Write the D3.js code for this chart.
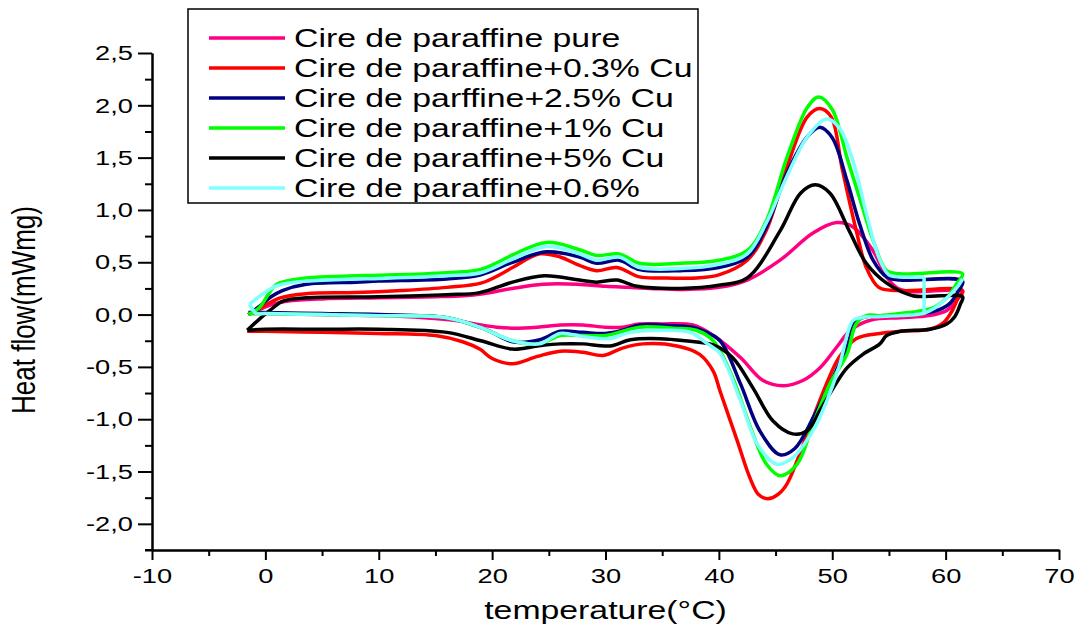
<!DOCTYPE html>
<html>
<head>
<meta charset="utf-8">
<script src="https://cdn.jsdelivr.net/npm/d3@7"></script>
<style>
  body { margin: 0; background: #fff; }
  svg { display: block; font-family: "Liberation Sans", Arial, sans-serif; }
</style>
</head>
<body>
<svg width="1081" height="630"></svg>
<script>
// Series labels and colours (legend order)
const seriesNames = [
  "Cire de paraffine pure",
  "Cire de paraffine+0.3% Cu",
  "Cire de parffine+2.5% Cu",
  "Cire de paraffine+1% Cu",
  "Cire de paraffine+5% Cu",
  "Cire de paraffine+0.6%"
];
const seriesColors = ["#ff0080", "#ff0000", "#000080", "#00ff00", "#000000", "#80ffff"];

// Tick values
const xTicks = [-10, 0, 10, 20, 30, 40, 50, 60, 70];
const xMinor = [-5, 5, 15, 25, 35, 45, 55, 65];
const yTicks = [-2.0, -1.5, -1.0, -0.5, 0.0, 0.5, 1.0, 1.5, 2.0, 2.5];
const yMinor = [-2.25, -1.75, -1.25, -0.75, -0.25, 0.25, 0.75, 1.25, 1.75, 2.25];

// [temperature, heat flow]: heating branch then cooling branch
const pure = [
  [-1.5,0.0],[-0.5,0.05],[0.7,0.10],[2,0.13],[5,0.15],[10,0.16],[15,0.17],[17.5,0.18],[19.2,0.2],
  [21.8,0.25],[24.5,0.29],[27.5,0.29],[30,0.27],[32,0.26],[34,0.25],[37,0.24],[40,0.26],[42.5,0.33],
  [45.4,0.52],[48.3,0.78],[50.4,0.88],[51.8,0.84],[53.6,0.61],[54.8,0.36],[55.8,0.25],[57,0.22],[61.5,0.22],
  [61.0,0.14],[60.1,0.04],[58.5,-0.01],[56,-0.03],[53.5,-0.05],[51.6,-0.15],[50.4,-0.31],[48.9,-0.51],
  [47.4,-0.63],[45.7,-0.68],[43.9,-0.63],[41.9,-0.41],[39.5,-0.2],[37.7,-0.1],[35,-0.09],[33,-0.09],
  [31.5,-0.12],[30,-0.12],[28,-0.1],[26,-0.1],[24,-0.12],[22,-0.13],[20.4,-0.12],[18.5,-0.09],[17,-0.06],
  [14,-0.03],[10,-0.01],[5,0.0],[0,0.01],[-1.5,0.01]
];
const cu03 = [
  [-1.5,0.0],[-0.5,0.06],[0.5,0.12],[1.3,0.16],[3.6,0.2],[8,0.21],[12,0.23],[16,0.26],[19,0.3],[21,0.4],
  [21.8,0.45],[24.2,0.58],[26,0.55],[27.7,0.47],[29.2,0.42],[31,0.45],[33,0.36],[35,0.35],[38,0.35],[40,0.38],
  [42.5,0.52],[44.2,0.81],[46,1.41],[47.8,1.89],[48.9,1.97],[49.9,1.89],[50.9,1.38],[52.1,0.81],[53,0.45],
  [54.1,0.26],[55.7,0.23],[61.5,0.23],
  [61.1,0.16],[60.6,0.04],[59.8,-0.08],[58.6,-0.14],[56,-0.16],[54.2,-0.18],[52.1,-0.23],[50.6,-0.41],
  [49.5,-0.66],[48.3,-0.99],[47.1,-1.34],[46,-1.62],[45.2,-1.72],[44.3,-1.76],[43.5,-1.72],[42.7,-1.55],
  [41.6,-1.2],[40.1,-0.73],[39.5,-0.54],[38.3,-0.38],[36.3,-0.3],[33.3,-0.28],[31.5,-0.32],[29.8,-0.39],
  [28,-0.36],[26,-0.35],[24,-0.4],[21.8,-0.47],[20,-0.42],[18.9,-0.33],[17.4,-0.26],[15,-0.2],[10,-0.18],
  [5,-0.17],[0,-0.16],[-1.6,-0.16]
];
const cu25 = [
  [-1.5,0.0],[-0.5,0.08],[0.5,0.17],[1.5,0.23],[3.6,0.29],[8,0.31],[10,0.32],[16,0.34],[19,0.38],[21.8,0.5],
  [24.8,0.6],[27.7,0.55],[29.2,0.49],[31.2,0.52],[33,0.43],[36.6,0.42],[40,0.45],[42.5,0.55],[44.2,0.84],
  [46,1.35],[47.8,1.7],[48.9,1.79],[50,1.69],[51.3,1.28],[52.4,0.87],[53.6,0.52],[54.8,0.36],[56,0.33],[61.5,0.32],
  [61.1,0.22],[60.3,0.1],[59,0.03],[57,0.0],[55,-0.01],[53,-0.02],[52.1,-0.06],[51.3,-0.31],[49.8,-0.66],
  [48.3,-0.99],[46.7,-1.28],[45.4,-1.34],[43.6,-1.11],[41.9,-0.66],[40.1,-0.25],[38.5,-0.15],[37.7,-0.12],
  [35,-0.1],[33,-0.1],[31.5,-0.15],[30,-0.18],[28,-0.17],[26,-0.16],[24.2,-0.24],[21.8,-0.26],[20,-0.17],
  [18.9,-0.12],[16,-0.03],[10,0.0],[5,0.01],[0,0.02],[-1.5,0.02]
];
const cu1 = [
  [-1.5,0.0],[-0.5,0.07],[0.3,0.2],[1,0.29],[3.6,0.35],[8,0.37],[10,0.375],[16,0.4],[18.9,0.43],[20.5,0.5],
  [21.8,0.57],[24.8,0.69],[27.7,0.62],[29.2,0.565],[31.2,0.58],[33,0.49],[36.6,0.49],[40,0.52],[42.5,0.61],
  [44.2,0.9],[46,1.5],[47.8,1.98],[48.8,2.08],[50,1.96],[51.3,1.5],[52.4,1.12],[53.6,0.71],[54.8,0.42],[56,0.39],[61.5,0.39],
  [61,0.3],[60.1,0.16],[59,0.07],[58,0.04],[56,0.01],[54.2,-0.01],[53,-0.01],[52.1,-0.09],[51.3,-0.38],
  [49.8,-0.66],[48.3,-1.05],[46.9,-1.43],[45.4,-1.54],[44.2,-1.43],[43,-1.14],[41.2,-0.6],[39.5,-0.25],
  [38,-0.15],[36,-0.13],[33,-0.12],[31.5,-0.16],[30,-0.2],[28,-0.2],[26,-0.2],[24.2,-0.28],[21.8,-0.25],
  [18.9,-0.12],[16,-0.03],[10,-0.01],[5,0.0],[0,0.01],[-1.5,0.01]
];
const cu5 = [
  [-1.6,-0.15],[-0.6,-0.05],[0.4,0.04],[1.6,0.13],[3.6,0.16],[10,0.17],[16,0.19],[18.9,0.21],[21.8,0.31],
  [24.6,0.37],[27.7,0.33],[29.2,0.31],[31,0.33],[32.8,0.27],[36.6,0.25],[40,0.28],[42.5,0.35],[45.4,0.8],
  [47.2,1.16],[48.5,1.24],[49.8,1.16],[51.5,0.8],[53,0.49],[54.8,0.3],[57.1,0.18],[61.5,0.17],
  [61.3,0.1],[60.8,-0.02],[60.1,-0.09],[58.6,-0.14],[56,-0.16],[54.8,-0.2],[54.2,-0.28],[52.7,-0.38],
  [51.3,-0.51],[50.1,-0.7],[48.9,-0.92],[47.8,-1.11],[46.5,-1.14],[44.8,-1.02],[43,-0.7],[41.2,-0.41],
  [39.5,-0.29],[37,-0.25],[34.8,-0.23],[32.2,-0.24],[30.4,-0.3],[28,-0.28],[26,-0.28],[24,-0.3],[21.8,-0.33],
  [19,-0.25],[16,-0.17],[10,-0.14],[5,-0.14],[0,-0.14],[-1.6,-0.15]
];
const cu06 = [
  [-1.4,0.1],[0.7,0.26],[2,0.3],[3.6,0.32],[8,0.34],[10,0.345],[16,0.37],[19,0.4],[21.8,0.53],[24.8,0.65],
  [27.7,0.58],[29.2,0.52],[31.2,0.55],[33,0.45],[36.6,0.44],[40,0.48],[42.5,0.58],[44.2,0.88],[46,1.32],
  [47.8,1.7],[49.5,1.87],[50.6,1.79],[51.8,1.48],[53,0.97],[54.1,0.55],[55,0.38],[56,0.36],[58.1,0.36]
];
const cu06Drop = [[58.1,0.36],[58.1,0.0]];
const cu06Cool = [
  [61.5,0.34],[61,0.26],[60.1,0.16],[59,0.06],[58,0.01],[56,-0.01],[54,-0.02],[52.5,-0.03],[51.8,-0.06],
  [50.6,-0.5],[49.5,-0.83],[48.3,-1.11],[46.5,-1.37],[45.1,-1.43],[43.4,-1.24],[41.9,-0.82],[40.1,-0.37],
  [39,-0.28],[37.5,-0.17],[35,-0.15],[32.2,-0.17],[30.4,-0.23],[28,-0.21],[26,-0.18],[24.2,-0.28],[21.8,-0.25],
  [18.9,-0.12],[16,-0.03],[10,-0.01],[5,0.0],[0,0.01],[-0.8,0.01],[-1.4,0.1]
];

const SX = 1.3; // the original figure is stretched horizontally

var svg = d3.select("svg");

var x = d3.scaleLinear().domain([-10, 70]).range([152, 1059]);
var y = d3.scaleLinear().domain([-2.25, 2.5]).range([550, 53]);

// axes
var xAxis = svg.append("g")
    .attr("transform", "translate(0," + y(-2.25) + ")")
    .call(d3.axisBottom(x).tickValues(xTicks).tickSize(10).tickSizeOuter(0).tickFormat(d => String(d)));
svg.append("g")
    .attr("transform", "translate(0," + y(-2.25) + ")")
    .call(d3.axisBottom(x).tickValues(xMinor).tickSize(6).tickSizeOuter(0).tickFormat(""));
var yAxis = svg.append("g")
    .attr("transform", "translate(" + x(-10) + ",0)")
    .call(d3.axisLeft(y).tickValues(yTicks).tickSize(14).tickSizeOuter(0).tickFormat(d => d.toFixed(1).replace(".", ",")));
svg.append("g")
    .attr("transform", "translate(" + x(-10) + ",0)")
    .call(d3.axisLeft(y).tickValues(yMinor).tickSize(7).tickSizeOuter(0).tickFormat(""));

svg.selectAll(".domain, .tick line").attr("stroke", "#000").attr("stroke-width", 2);
svg.append("line")
    .attr("x1", x(-10) - 7).attr("x2", x(-10))
    .attr("y1", y(-2.25)).attr("y2", y(-2.25))
    .attr("stroke", "#000").attr("stroke-width", 2);

xAxis.selectAll("text")
    .attr("font-size", 21).attr("font-family", "Liberation Sans, Arial, sans-serif")
    .attr("fill", "#000").attr("y", 18).attr("dy", "0.71em")
    .attr("transform", "scale(" + SX + ",1)");
yAxis.selectAll("text")
    .attr("font-size", 21).attr("font-family", "Liberation Sans, Arial, sans-serif")
    .attr("fill", "#000").attr("x", -19 / SX)
    .attr("transform", "scale(" + SX + ",1)");

// axis titles
svg.append("text")
    .attr("transform", "translate(" + ((x(-10) + x(70)) / 2) + ",619) scale(" + SX + ",1)")
    .attr("text-anchor", "middle").attr("font-size", 26)
    .text("temperature(°C)");
svg.append("text")
    .attr("transform", "translate(35,310) scale(" + SX + ",1) rotate(-90)")
    .attr("text-anchor", "middle").attr("font-size", 26)
    .text("Heat flow(mWmg)");

// curves
var line = d3.line()
    .x(d => x(d[0]))
    .y(d => y(d[1]))
    .curve(d3.curveCatmullRom.alpha(0.5));

var curves = [
  { data: pure, c: 0 },
  { data: cu03, c: 1 },
  { data: cu25, c: 2 },
  { data: cu1, c: 3 },
  { data: cu5, c: 4 },
  { data: cu06, c: 5 },
  { data: cu06Cool, c: 5 }
];

svg.append("g").selectAll("path")
    .data(curves)
    .enter().append("path")
    .attr("d", d => line(d.data))
    .attr("fill", "none")
    .attr("stroke", d => seriesColors[d.c])
    .attr("stroke-width", 3.5)
    .attr("stroke-linejoin", "round");

svg.append("path")
    .attr("d", d3.line().x(d => x(d[0])).y(d => y(d[1]))(cu06Drop))
    .attr("fill", "none")
    .attr("stroke", seriesColors[5])
    .attr("stroke-width", 3.5);

// legend
var legend = svg.append("g");
legend.append("rect")
    .attr("x", 188).attr("y", 9).attr("width", 510).attr("height", 194)
    .attr("fill", "#fff").attr("stroke", "#000").attr("stroke-width", 1.5);

var rows = legend.selectAll(".row")
    .data(seriesNames)
    .enter().append("g")
    .attr("class", "row")
    .attr("transform", (d, i) => "translate(0," + (38 + i * 30) + ")");
rows.append("line")
    .attr("x1", 209).attr("x2", 285)
    .attr("stroke", (d, i) => seriesColors[i])
    .attr("stroke-width", 3.5);
rows.append("text")
    .attr("transform", "translate(294,9) scale(" + SX + ",1)")
    .attr("font-size", 26)
    .text(d => d);
</script>
</body>
</html>
